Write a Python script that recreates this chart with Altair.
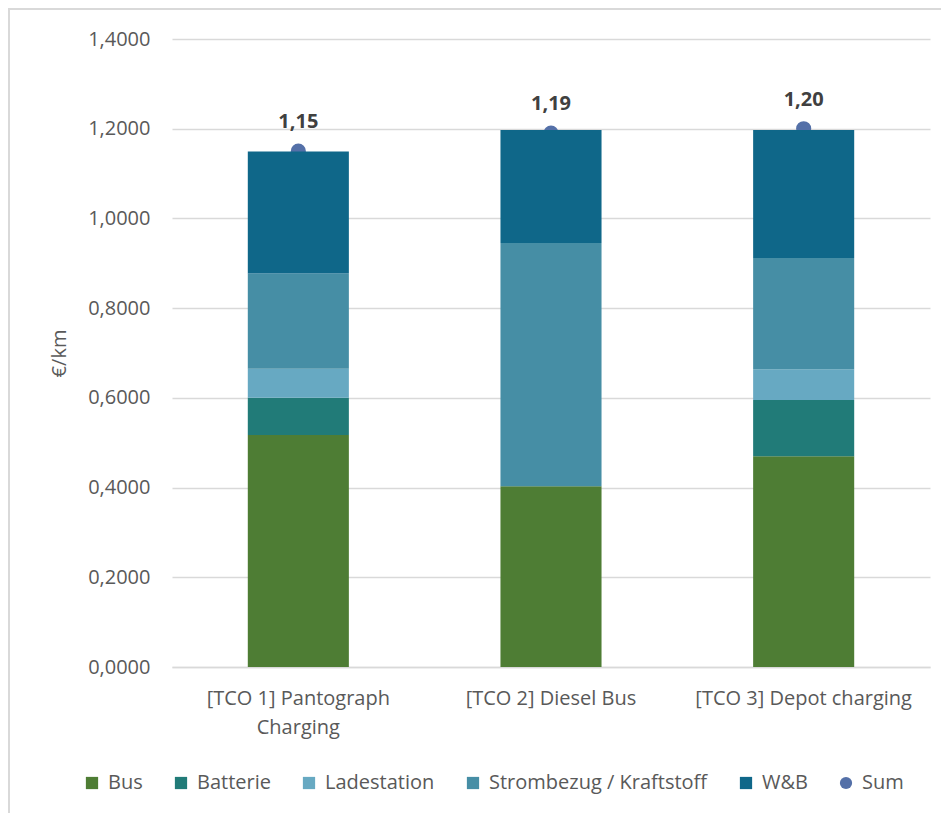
import altair as alt
import pandas as pd

categories = ["[TCO 1] Pantograph Charging", "[TCO 2] Diesel Bus", "[TCO 3] Depot charging"]
series = ["Bus", "Batterie", "Ladestation", "Strombezug / Kraftstoff", "W&B"]
bus = [0.517, 0.403, 0.470]
batterie = [0.083, 0.0, 0.125]
ladestation = [0.065, 0.0, 0.069]
strombezug = [0.212, 0.542, 0.248]
wb = [0.272, 0.252, 0.285]
sums = [1.15, 1.19, 1.20]
y_ticks = [0.0, 0.2, 0.4, 0.6, 0.8, 1.0, 1.2, 1.4]

colors = ["#4E7D34", "#217B78", "#67A9C2", "#468EA5", "#0F6789"]
sum_color = "#5470A8"

rows = []
for i, c in enumerate(categories):
    for j, (s, vals) in enumerate(zip(series, [bus, batterie, ladestation, strombezug, wb])):
        rows.append({"cat": c, "series": s, "value": vals[i], "order": j})
bars_df = pd.DataFrame(rows)
sum_df = pd.DataFrame({"cat": categories, "series": ["Sum"] * len(categories), "value": sums})

legend_domain = series + ["Sum"]
color_scale = alt.Scale(domain=legend_domain, range=colors + [sum_color])
shape_scale = alt.Scale(domain=legend_domain, range=["square"] * 5 + ["circle"])

FONT = "Open Sans"

legend = alt.Legend(
    title=None, orient="none", legendX=-90, legendY=734, direction="horizontal", columns=6,
    labelFont=FONT, labelFontSize=20, labelColor="#595959", symbolSize=150,
    symbolStrokeWidth=0, columnPadding=28, labelOffset=6, labelLimit=400,
)

x_enc = alt.X(
    "cat:N", sort=categories,
    scale=alt.Scale(paddingInner=0.6, paddingOuter=0.3),
    axis=alt.Axis(
        title=None, labelAngle=0, labelAlign="center", ticks=False, labelFont=FONT, labelFontSize=20,
        labelColor="#595959", labelPadding=21, labelLineHeight=29, labelBaseline="top",
        labelExpr="split(replace(datum.value, 'Pantograph ', 'Pantograph|'), '|')",
        domainColor="#D9D9D9", domainWidth=1.5, labelLimit=300,
    ),
)
y_enc = alt.Y(
    "value:Q",
    scale=alt.Scale(domain=[0, 1.4], nice=False),
    stack="zero",
    axis=alt.Axis(
        values=y_ticks, title="€/km", ticks=False, domain=False,
        labelExpr="replace(format(datum.value, '.4f'), '.', ',')",
        labelFont=FONT, labelFontSize=20, labelColor="#595959", labelPadding=22,
        titleFont=FONT, titleFontSize=20, titleColor="#595959", titleFontWeight="normal",
        titlePadding=18, gridColor="#D9D9D9", gridWidth=1.5,
    ),
)

border = alt.Chart(sum_df).mark_rect(fill=None, stroke="#D9D9D9", strokeWidth=2).encode(
    x=alt.value(-163), x2=alt.value(800), y=alt.value(-30), y2=alt.value(830)
)

points = alt.Chart(sum_df).mark_point(filled=True, size=230, opacity=1).encode(
    x=alt.X("cat:N", sort=categories),
    y=alt.Y("value:Q"),
    color=alt.Color("series:N", scale=color_scale, legend=legend),
    shape=alt.Shape("series:N", scale=shape_scale, legend=legend),
)

bars = alt.Chart(bars_df).mark_bar().encode(
    x=x_enc,
    y=y_enc,
    color=alt.Color("series:N", scale=color_scale, legend=legend),
    order=alt.Order("order:Q", sort="ascending"),
)

labels = alt.Chart(sum_df).transform_calculate(
    txt="replace(format(datum.value, '.2f'), '.', ',')"
).mark_text(font=FONT, fontSize=20, fontWeight="bold", color="#404040", dy=-29, baseline="middle").encode(
    x=alt.X("cat:N", sort=categories),
    y=alt.Y("value:Q"),
    text="txt:N",
)

chart = alt.layer(border, points, bars, labels).properties(
    width=758, height=628,
    autosize=alt.AutoSizeParams(type="none"),
    padding={"left": 164, "top": 31, "right": 11, "bottom": 146},
).configure_view(stroke=None)

chart.save("out.html", embed_options={"renderer": "svg", "actions": False})
